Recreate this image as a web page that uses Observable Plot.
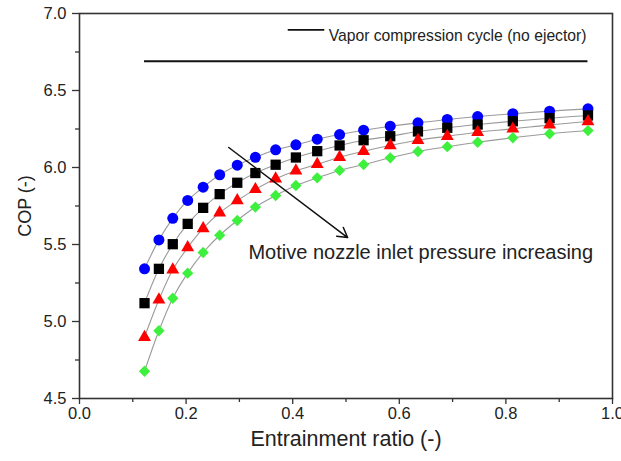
<!DOCTYPE html>
<html>
<head>
<meta charset="utf-8">
<script src="https://cdn.jsdelivr.net/npm/d3@7"></script>
<script src="https://cdn.jsdelivr.net/npm/@observablehq/plot@0.6"></script>
<style>
  html, body { margin: 0; padding: 0; background: #fff; }
  #chart { width: 621px; height: 461px; }
</style>
</head>
<body>
<div id="chart"></div>
<script>
// Entrainment ratio (shared by all four series)
const ratio = [0.122, 0.149, 0.175, 0.203, 0.232, 0.263, 0.296, 0.330, 0.368, 0.406,
               0.446, 0.488, 0.533, 0.583, 0.635, 0.690, 0.747, 0.813, 0.882, 0.954];
// COP values, from lowest to highest motive nozzle inlet pressure
const copBlue  = [5.342, 5.530, 5.670, 5.786, 5.872, 5.953, 6.015, 6.066, 6.115, 6.147,
                  6.184, 6.214, 6.242, 6.268, 6.290, 6.312, 6.331, 6.349, 6.366, 6.381];
const copBlack = [5.119, 5.342, 5.502, 5.634, 5.738, 5.827, 5.901, 5.964, 6.018, 6.065,
                  6.106, 6.143, 6.177, 6.203, 6.234, 6.258, 6.279, 6.300, 6.320, 6.338];
const copRed   = [4.898, 5.141, 5.336, 5.480, 5.604, 5.706, 5.786, 5.858, 5.927, 5.979,
                  6.021, 6.067, 6.106, 6.143, 6.177, 6.203, 6.229, 6.251, 6.277, 6.299];
const copGreen = [4.677, 4.940, 5.151, 5.314, 5.448, 5.560, 5.656, 5.743, 5.818, 5.883,
                  5.933, 5.981, 6.019, 6.063, 6.104, 6.135, 6.164, 6.193, 6.219, 6.240];

// Vapor compression cycle (no ejector) reference
const vccCOP = 6.69;
const vccRange = [0.122, 0.954];

const xTicks = [0, 0.2, 0.4, 0.6, 0.8, 1.0];
const xMinor = [0.1, 0.3, 0.5, 0.7, 0.9];
const yTicks = [4.5, 5.0, 5.5, 6.0, 6.5, 7.0];
const yMinor = [4.75, 5.25, 5.75, 6.25, 6.75];

const legendLabel = "Vapor compression cycle (no ejector)";
const annotation = "Motive nozzle inlet pressure increasing";
const xLabel = "Entrainment ratio (-)";
const yLabel = "COP (-)";

// annotation anchors (data coordinates)
const arrowSpec = [{x1: 0.280, y1: 6.13, x2: 0.503, y2: 5.545}];
const annoPos = [{x: 0.317, y: 5.448}];
const legendLine = [{x: 0.392, y: 6.894}, {x: 0.458, y: 6.894}];

const seriesDefs = [
  {name: "p1", values: copBlue,  color: "#0000ff", symbol: "circle",   r: 5.5},
  {name: "p2", values: copBlack, color: "#000000", symbol: "square",   r: 5.8},
  {name: "p3", values: copRed,   color: "#ff0000", symbol: "triangle", r: 4.8},
  {name: "p4", values: copGreen, color: "#3ef03e", symbol: "diamond2", r: 5.1}
];

const rows = seriesDefs.flatMap(s => ratio.map((x, i) => ({series: s.name, x, y: s.values[i]})));

const font = "'Liberation Sans', Arial, Helvetica, sans-serif";

const chart = Plot.plot({
  width: 621,
  height: 461,
  marginLeft: 79,
  marginRight: 9,
  marginTop: 13,
  marginBottom: 63,
  style: {fontFamily: font, fontSize: "16px", color: "#222", background: "#fff"},
  x: {domain: [0, 1]},
  y: {domain: [4.5, 7]},
  marks: [
    Plot.axisX(xTicks, {tickSize: 6, tickPadding: 3, tickFormat: d3.format(".1f"), label: null, fontSize: 16.5, stroke: "#333", strokeWidth: 1.3}),
    Plot.axisX(xMinor, {tickSize: 4, tickFormat: () => "", label: null, stroke: "#333", strokeWidth: 1.3}),
    Plot.axisY(yTicks, {tickSize: 7, tickPadding: 6, tickFormat: d3.format(".1f"), label: null, fontSize: 16.5, stroke: "#333", strokeWidth: 1.3}),
    Plot.axisY(yMinor, {tickSize: 4, tickFormat: () => "", label: null, stroke: "#333", strokeWidth: 1.3}),
    Plot.text([xLabel], {text: d => d, frameAnchor: "bottom", textAnchor: "middle", dy: 47, fontSize: 21.5, fill: "#222"}),
    Plot.text([yLabel], {text: d => d, frameAnchor: "left", textAnchor: "middle", dx: -54, rotate: -90, fontSize: 18, fill: "#222"}),
    // reference line
    Plot.ruleY([vccCOP], {x1: vccRange[0], x2: vccRange[1], stroke: "#111", strokeWidth: 2}),
    // legend
    Plot.line(legendLine, {x: "x", y: "y", stroke: "#111", strokeWidth: 1.8}),
    Plot.text([legendLabel], {text: d => d, frameAnchor: "top-right", textAnchor: "end", dx: -26, dy: 16, fontSize: 15.7, fill: "#222"}),
    // series connecting lines
    Plot.line(rows, {x: "x", y: "y", z: "series", stroke: "#9a9a9a", strokeWidth: 1.1, curve: "catmull-rom"}),
    // markers
    ...seriesDefs.map(s => Plot.dot(rows.filter(d => d.series === s.name), {
      x: "x", y: "y", symbol: () => s.symbol, fill: s.color, stroke: "none", r: s.r
    })),
    // annotation arrow + text
    Plot.arrow(arrowSpec, {x1: "x1", y1: "y1", x2: "x2", y2: "y2", stroke: "#111", strokeWidth: 1.5, headLength: 11, bend: 0}),
    Plot.text(annoPos, {x: "x", y: "y", text: () => annotation, textAnchor: "start", fontSize: 20, fill: "#222"}),
    Plot.frame({stroke: "#333", strokeWidth: 1.6})
  ]
});

document.getElementById("chart").appendChild(chart);
</script>
</body>
</html>
